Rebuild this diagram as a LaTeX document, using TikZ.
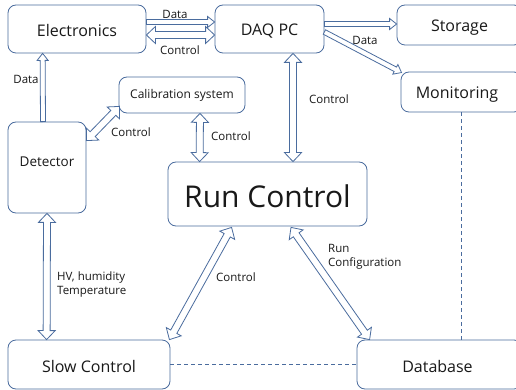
\documentclass[tikz,border=0pt]{standalone}
\usepackage{fontspec}
\setmainfont{Open Sans}
\usetikzlibrary{calc}

\definecolor{edge}{RGB}{74,108,158}
\definecolor{ink}{RGB}{25,25,25}

% drop a box caption a little below the geometric centre
\newcommand{\lowered}[2][2.5pt]{\raisebox{-#1}[\height][\depth]{#2}}

\tikzset{
  box/.style={draw=edge, line width=0.8pt, rounded corners=8pt, fill=white,
              inner sep=0pt, anchor=center, text=ink, font=\fontsize{16}{18}\selectfont},
  lbl/.style={text=ink, font=\fontsize{11.5}{14}\selectfont, inner sep=0pt},
  arrbody/.style={draw=edge, line width=0.8pt, fill=white, line join=miter},
  link/.style={draw=edge, line width=0.8pt, dash pattern=on 4pt off 3pt}
}

% block arrow with one head: #1 tail, #2 tip
\newcommand{\onewayarrow}[2]{%
  \path (#1) coordinate (tmpA) (#2) coordinate (tmpB);
  \pgfpointdiff{\pgfpointanchor{tmpA}{center}}{\pgfpointanchor{tmpB}{center}}%
  \pgfgetlastxy{\bax}{\bay}%
  \pgfmathsetmacro{\bang}{atan2(\bay,\bax)}%
  \pgfmathsetmacro{\blen}{veclen(\bax,\bay)}%
  \pgfmathsetmacro{\bneck}{\blen-7}%
  \begin{scope}[shift={(tmpA)}, rotate=\bang]
    \path[arrbody] (0pt,-2.5pt) -- (\bneck pt,-2.5pt) -- (\bneck pt,-5.5pt)
      -- (\blen pt,0pt) -- (\bneck pt,5.5pt) -- (\bneck pt,2.5pt) -- (0pt,2.5pt) -- cycle;
  \end{scope}}

% block arrow with a head at each end
\newcommand{\twowayarrow}[2]{%
  \path (#1) coordinate (tmpA) (#2) coordinate (tmpB);
  \pgfpointdiff{\pgfpointanchor{tmpA}{center}}{\pgfpointanchor{tmpB}{center}}%
  \pgfgetlastxy{\bax}{\bay}%
  \pgfmathsetmacro{\bang}{atan2(\bay,\bax)}%
  \pgfmathsetmacro{\blen}{veclen(\bax,\bay)}%
  \pgfmathsetmacro{\bneck}{\blen-9}%
  \begin{scope}[shift={(tmpA)}, rotate=\bang]
    \path[arrbody] (9pt,-3.5pt) -- (\bneck pt,-3.5pt) -- (\bneck pt,-8.5pt)
      -- (\blen pt,0pt) -- (\bneck pt,8.5pt) -- (\bneck pt,3.5pt) -- (9pt,3.5pt)
      -- (9pt,8.5pt) -- (0pt,0pt) -- (9pt,-8.5pt) -- cycle;
  \end{scope}}

\begin{document}
\begin{tikzpicture}[x=1pt, y=-1pt]
  \useasboundingbox (0,0) rectangle (516,390);
  \clip (0,0) rectangle (516,390);
  \fill[white] (0,0) rectangle (516,390);

  % dashed links drawn first so the boxes cover their ends
  \node[box, minimum width=121pt, minimum height=40pt] (mon) at (461.5,92) {\hspace*{-9pt}\lowered[3pt]{Monitoring}};
  \node[box, minimum width=165pt, minimum height=49pt] (db) at (439.5,364.5) {\hspace*{-4pt}\lowered[1.5pt]{Database}};
  \node[box, minimum width=162pt, minimum height=49pt] (slow) at (89,364.5) {\lowered[1.5pt]{Slow Control}};
  \path[link] (mon.south) -- (mon.south |- db.north);
  \path[link] (slow.east) -- (db.west);

  % boxes
  \node[box, minimum width=138pt, minimum height=48pt] (elec) at (77,29) {\lowered[2pt]{Electronics}};
  \node[box, minimum width=109pt, minimum height=48pt] (daq) at (269.5,29) {\lowered[2.5pt]{DAQ PC}};
  \node[box, minimum width=125pt, minimum height=40pt] (stor) at (459.5,25) {\lowered[3pt]{Storage}};
  \node[box, minimum width=126pt, minimum height=36pt, font=\fontsize{12}{14}\selectfont] (calib) at (182,95) {Calibration system};
  \node[box, minimum width=78pt, minimum height=91pt,
        label={[text=ink, font=\fontsize{13.5}{16}\selectfont, yshift=6pt]center:Detector}] (det) at (47,167.5) {};
  \node[box, minimum width=199pt, minimum height=64pt, font=\fontsize{30}{34}\selectfont] (run) at (267.5,194) {\lowered[2pt]{Run Control}};

  % data and control flows
  \onewayarrow{$(elec.east)+(0,-7)$}{$(daq.west)+(0,-7)$}
  \twowayarrow{$(elec.east)+(0,6)$}{$(daq.west)+(0,6)$}
  \onewayarrow{$(daq.east)+(0,-5)$}{$(stor.west)+(0,-1)$}
  \onewayarrow{$(daq.east)+(0,3)$}{$(mon.north west)+(1,1)$}
  \onewayarrow{$(det.north)+(-4,0)$}{$(elec.south west)+(35,0)$}
  \twowayarrow{$(det.north east)+(0,19)$}{$(calib.south west)+(1,-7)$}
  \twowayarrow{$(calib.south)+(18,0)$}{$(run.north west)+(32,0)$}
  \twowayarrow{$(daq.south)+(23.5,0)$}{$(run.north)+(25.5,0)$}
  \twowayarrow{det.south}{$(slow.north west)+(39,0)$}
  \twowayarrow{$(run.south west)+(64,1)$}{$(slow.north east)+(-1,0)$}
  \twowayarrow{$(run.south)+(23.5,1)$}{$(db.north west)+(13,0)$}

  % flow labels
  \node[lbl] (l1) at (175,14) {Data};
  \node[lbl] (l2) at (180,50) {Control};
  \node[lbl] (l3) at (365,40) {Data};
  \node[lbl] (l4) at (26,79) {Data};
  \node[lbl] (l5) at (131,132) {Control};
  \node[lbl] (l6) at (231,136) {Control};
  \node[lbl] (l7) at (329,99) {Control};
  \node[lbl, align=left, anchor=west] (l8) at (57,285) {HV, humidity\\Temperature};
  \node[lbl] (l9) at (236,277) {Control};
  \node[lbl, align=left, anchor=west] (l10) at (328,257) {Run\\Configuration};
\end{tikzpicture}
\end{document}
